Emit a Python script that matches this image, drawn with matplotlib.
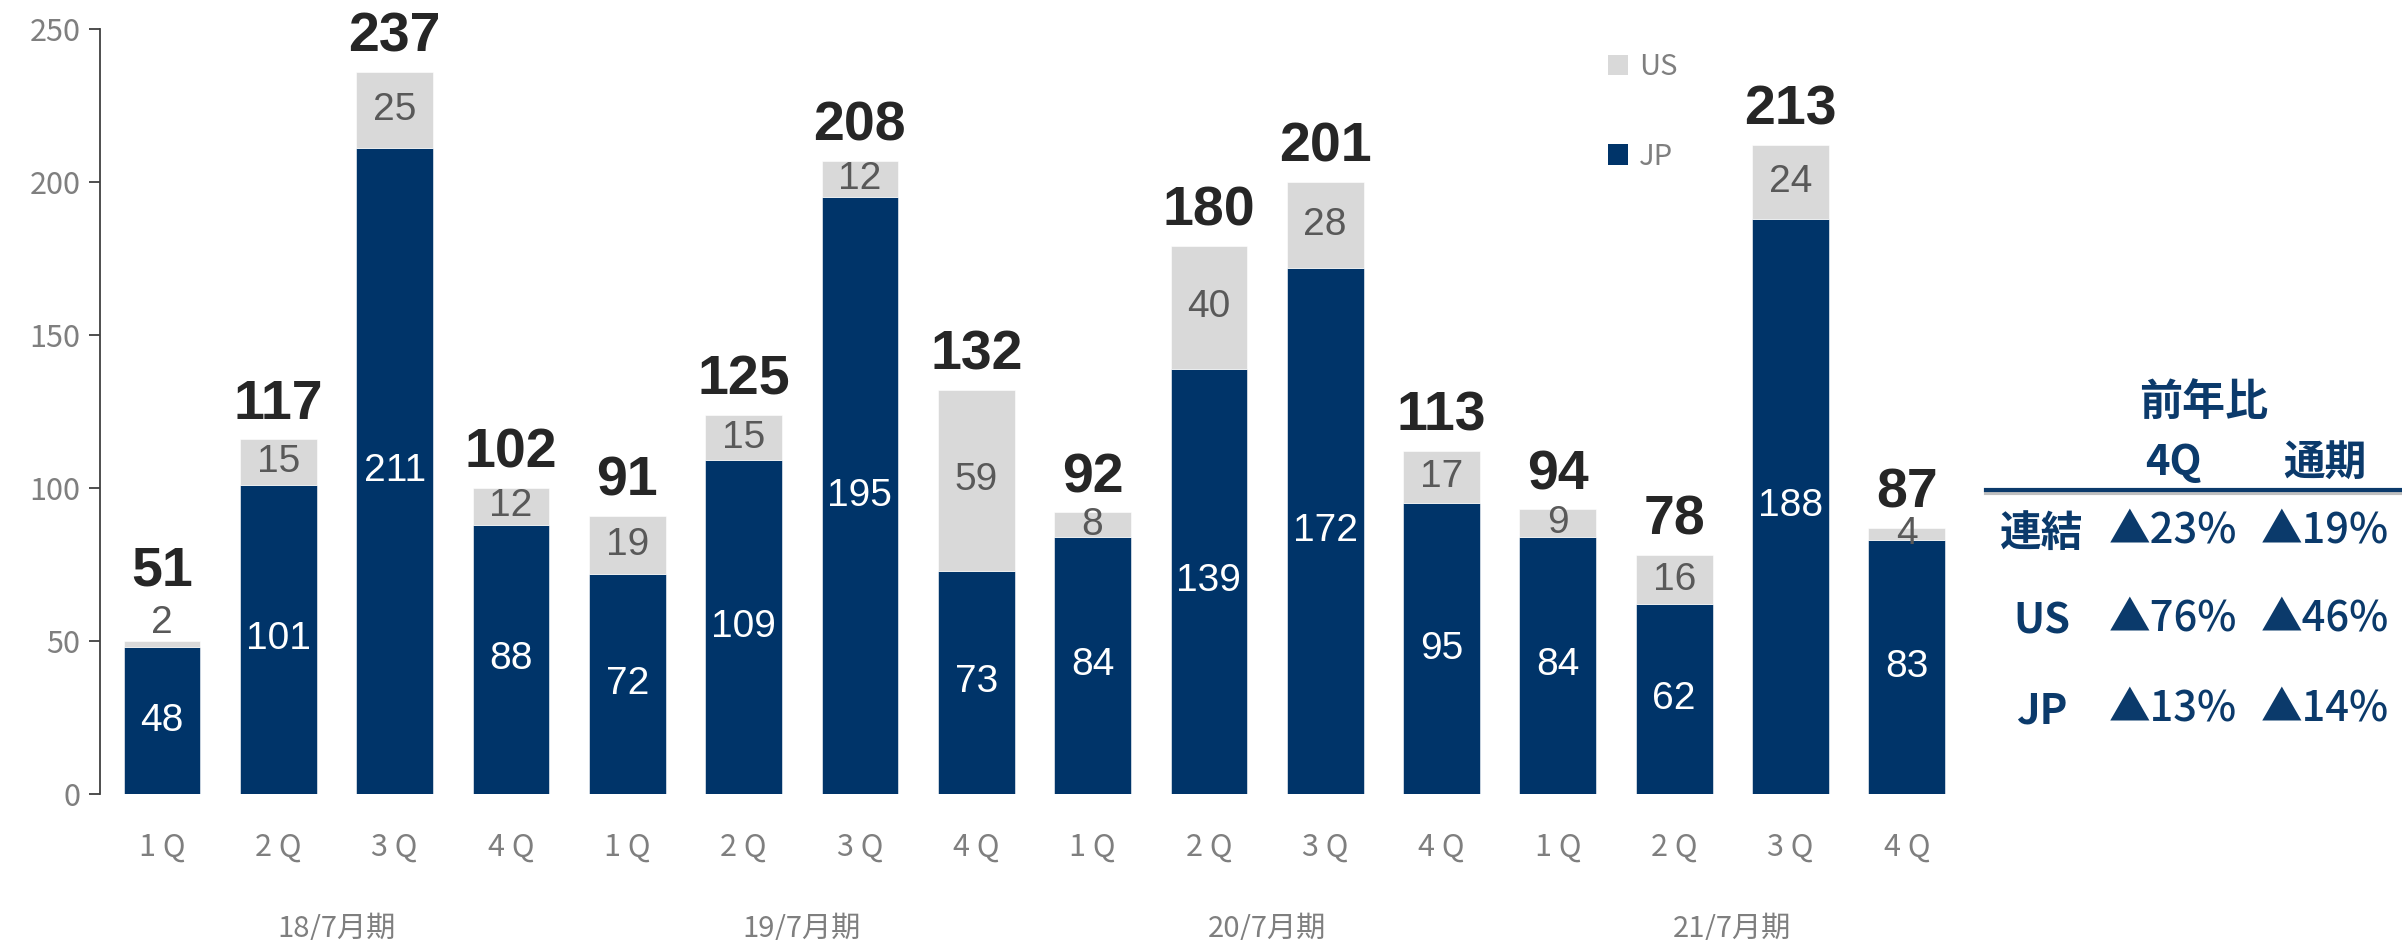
import matplotlib
matplotlib.use('Agg')
import matplotlib.pyplot as plt
import matplotlib.transforms as mtransforms
import matplotlib.patheffects as pe
from matplotlib.patches import Patch
from matplotlib.lines import Line2D
import numpy as np

# ---------------- data ----------------
quarters = ['1 Q', '2 Q', '3 Q', '4 Q'] * 4
periods = ['18/7月期', '19/7月期', '20/7月期', '21/7月期']
jp = [48, 101, 211, 88, 72, 109, 195, 73, 84, 139, 172, 95, 84, 62, 188, 83]
us = [2, 15, 25, 12, 19, 15, 12, 59, 8, 40, 28, 17, 9, 16, 24, 4]
totals = [51, 117, 237, 102, 91, 125, 208, 132, 92, 180, 201, 113, 94, 78, 213, 87]
yticks = [0, 50, 100, 150, 200, 250]

table_title = '前年比'
table_cols = ['4Q', '通期']
table_rows = ['連結', 'US', 'JP']
table_vals = [['▲23%', '▲19%'], ['▲76%', '▲46%'], ['▲13%', '▲14%']]

# ---------------- style ----------------
NAVY = '#003469'
LGRAY = '#D9D9D9'
TXTGRAY = '#7F7F7F'
SEGGRAY = '#595959'
DARK = '#262626'
TNAVY = '#0B3A6B'
CJK = ['Noto Sans CJK JP', 'DejaVu Sans']
ARIAL = ['Liberation Sans', 'DejaVu Sans']

plt.rcParams['font.family'] = CJK

W, H = 2402, 940
fig = plt.figure(figsize=(W / 100, H / 100), dpi=100)
ax = fig.add_axes([100 / W, 146 / H, (1965 - 100) / W, 765 / H])

x = np.arange(len(jp))
jp_a = np.array(jp)
us_a = np.array(us)
ax.bar(x, jp_a, width=0.66, color=NAVY, edgecolor='white', linewidth=0.4, label='JP', zorder=2)
ax.bar(x, us_a, width=0.66, bottom=jp_a, color=LGRAY, edgecolor='white', linewidth=0.4, label='US', zorder=2)

for i in range(len(x)):
    top = jp_a[i] + us_a[i]
    ax.text(x[i], jp_a[i] / 2, str(jp[i]), ha='center', va='center', color='white',
            fontsize=28, family=ARIAL, zorder=3)
    small = us[i] < 3
    if small:
        ax.annotate(str(us[i]), (x[i], top), xytext=(0, 13), textcoords='offset points',
                    ha='center', va='center', color=SEGGRAY, fontsize=28, family=ARIAL,
                    annotation_clip=False)
        toff = 31
    else:
        ax.text(x[i], jp_a[i] + us_a[i] / 2, str(us[i]), ha='center', va='center', color=SEGGRAY,
                fontsize=28, family=ARIAL, zorder=3)
        toff = 6
    ax.annotate(str(totals[i]), (x[i], top), xytext=(0, toff), textcoords='offset points',
                ha='center', va='bottom', fontsize=40, fontweight='bold', color=DARK,
                family=ARIAL, annotation_clip=False)

ax.set_xlim(-0.533, 15.5)
ax.set_ylim(0, 250)
ax.set_yticks(yticks)
ax.tick_params(axis='y', direction='out', length=8, width=1.3, color='#404040',
               labelsize=22, labelcolor=TXTGRAY, pad=6)
ax.set_xticks(x, quarters)
ax.tick_params(axis='x', length=0, labelsize=22, labelcolor=TXTGRAY, pad=27)
for s in ['top', 'right', 'bottom']:
    ax.spines[s].set_visible(False)
ax.spines['left'].set_color('#404040')
ax.spines['left'].set_linewidth(1.3)

trans = mtransforms.blended_transform_factory(ax.transData, ax.transAxes)
for k, p in enumerate(periods):
    ax.text(4 * k + 1.5, -0.177, p, transform=trans, ha='center', va='center',
            fontsize=21, color=TXTGRAY)

# legend
handles = [Patch(facecolor=LGRAY, edgecolor='none'), Patch(facecolor=NAVY, edgecolor='none')]
leg = fig.legend(handles, ['US', 'JP'], loc='upper left', bbox_to_anchor=(1608 / W, 1 - 52 / H),
                 frameon=False, fontsize=21, handlelength=0.7, handleheight=0.7,
                 labelspacing=2.05, handletextpad=0.35, borderpad=0, borderaxespad=0)
for t in leg.get_texts():
    t.set_color(TXTGRAY)

# right-hand table
def fx(px):
    return px / W

def fy(py):
    return 1 - py / H

fig.text(fx(2204), fy(402), table_title, ha='center', va='center', fontsize=31,
         fontweight='bold', color=TNAVY)
col_x = [2173, 2325]
for cx, c in zip(col_x, table_cols):
    fig.text(fx(cx), fy(463), c, ha='center', va='center', fontsize=30, fontweight='bold', color=TNAVY)
line = Line2D([fx(1986), fx(2402)], [fy(490), fy(490)], lw=3, color=TNAVY,
              path_effects=[pe.SimpleLineShadow(offset=(0, -2.5), alpha=0.25), pe.Normal()])
fig.add_artist(line)
row_y = [534, 622, 712]
for ry, rl, vals in zip(row_y, table_rows, table_vals):
    fig.text(fx(2042), fy(ry), rl, ha='center', va='center', fontsize=30, fontweight='bold', color=TNAVY)
    for cx, v in zip(col_x, vals):
        fig.text(fx(cx), fy(ry - 4), v, ha='center', va='center', fontsize=30, fontweight='medium',
                 color=TNAVY)

fig.savefig('out.png', dpi=100)
